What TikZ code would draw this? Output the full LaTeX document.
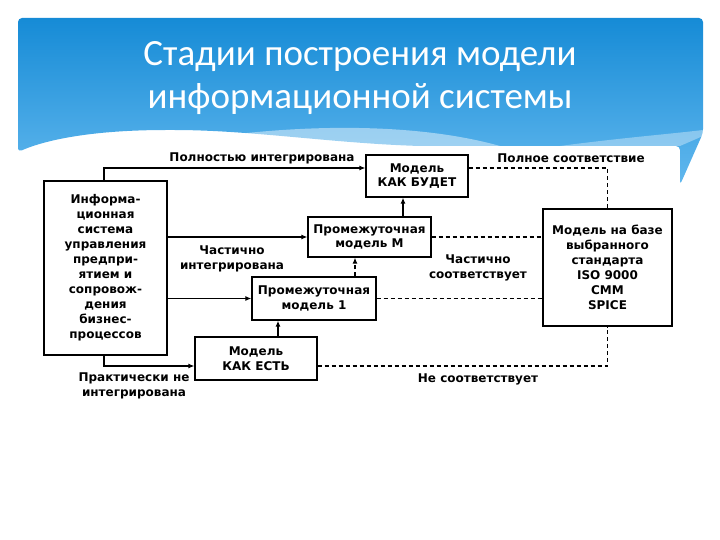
\documentclass[tikz,border=0pt]{standalone}
\usepackage{fontspec}
\setmainfont{DejaVu Sans}
\newfontfamily\titlefont{Carlito}
\usetikzlibrary{arrows.meta}

\begin{document}
\begin{tikzpicture}[x=1pt,y=-1pt,
    box/.style={draw,line width=1.3pt,fill=white,align=center,inner sep=0pt,
        font=\bfseries\fontsize{12}{14.5}\selectfont},
    lbl/.style={align=center,inner sep=0pt,
        font=\bfseries\fontsize{12}{14.5}\selectfont},
    link/.style={line width=1.1pt,-{Latex[length=6pt,width=5pt]}},
    fat/.style={line width=1.9pt,-{Latex[length=6pt,width=5pt]}},
    match/.style={line width=1.1pt,dash pattern=on 4pt off 3pt}]
    \definecolor{headtop}{RGB}{22,139,214}
    \definecolor{headbot}{RGB}{98,184,238}

    \useasboundingbox (0,0) rectangle (720,540);

    % header with wavy bottom
    \shade[top color=headtop,bottom color=headbot,rounded corners=4pt]
        (18,152) -- (18,18) -- (703,18) -- (703,133) -- (680,185)
        -- (680,146) -- (420,146)
        .. controls (330,143) and (250,130) .. (170,130)
        .. controls (100,130) and (50,138) .. (18,152) -- cycle;
    \fill[white,opacity=0.45]
        (160,146) .. controls (260,126) and (400,118) .. (500,146) -- cycle;
    \fill[white,opacity=0.35]
        (560,146) .. controls (620,138) and (670,134) .. (703,130)
        -- (703,136) -- (680,146) -- cycle;

    % title
    \node[font=\titlefont\fontsize{37}{43}\selectfont,text=white,align=center]
        (title) at (360,78) {Стадии построения модели\\информационной системы};

    % boxes
    \node[box,minimum width=123,minimum height=174,
        font=\bfseries\fontsize{12}{15}\selectfont] (info) at (105.5,268)
        {Информа-\\ционная\\система\\управления\\предпри-\\ятием и\\сопровож-\\дения\\бизнес-\\процессов};
    \node[box,minimum width=102,minimum height=42] (tobe) at (417,176)
        {Модель\\КАК БУДЕТ};
    \node[box,minimum width=123,minimum height=40] (midM) at (369.5,237)
        {Промежуточная\\модель М};
    \node[box,minimum width=124,minimum height=43] (mid1) at (314,298.5)
        {Промежуточная\\модель 1};
    \node[box,minimum width=122,minimum height=43] (asis) at (256,358.5)
        {Модель\\КАК ЕСТЬ};
    \node[box,minimum width=129,minimum height=117,
        font=\bfseries\fontsize{12}{15}\selectfont] (std) at (607.5,267.5)
        {Модель на базе\\выбранного\\стандарта\\ISO 9000\\CMM\\SPICE};

    % integration links
    \draw[link] ([xshift=-1.5pt]info.north) |- ([yshift=8pt]tobe.west);
    \draw[link] (info.east |- midM.west) -- (midM.west);
    \draw[link] (info.east |- mid1.west) -- (mid1.west);
    \draw[link] ([xshift=-1.5pt]info.south) |- ([yshift=-7.5pt]asis.west);

    % stage links
    \draw[fat] (asis.north -| 278,0) -- (mid1.south -| 278,0);
    \draw[match,-{Latex[length=6pt,width=5pt]}]
        (mid1.north -| 355,0) -- (midM.south -| 355,0);
    \draw[fat] (midM.north -| 403,0) -- (tobe.south -| 403,0);

    % correspondence to the standard
    \draw[match] ([yshift=8pt]tobe.east) -| (std.north);
    \draw[match] (midM.east) -- (midM.east -| std.west);
    \draw[match] (mid1.east) -- (mid1.east -| std.west);
    \draw[match] ([yshift=-7.5pt]asis.east) -| (std.south);

    % labels
    \node[lbl] (fullint) at (262,158) {Полностью интегрирована};
    \node[lbl] (partint) at (232,259) {Частично\\интегрирована};
    \node[lbl] (noint) at (134,386) {Практически не\\интегрирована};
    \node[lbl] (fullmatch) at (571,158) {Полное соответствие};
    \node[lbl] (partmatch) at (478,268) {Частично\\соответствует};
    \node[lbl] (nomatch) at (478,379) {Не соответствует};
\end{tikzpicture}
\end{document}
